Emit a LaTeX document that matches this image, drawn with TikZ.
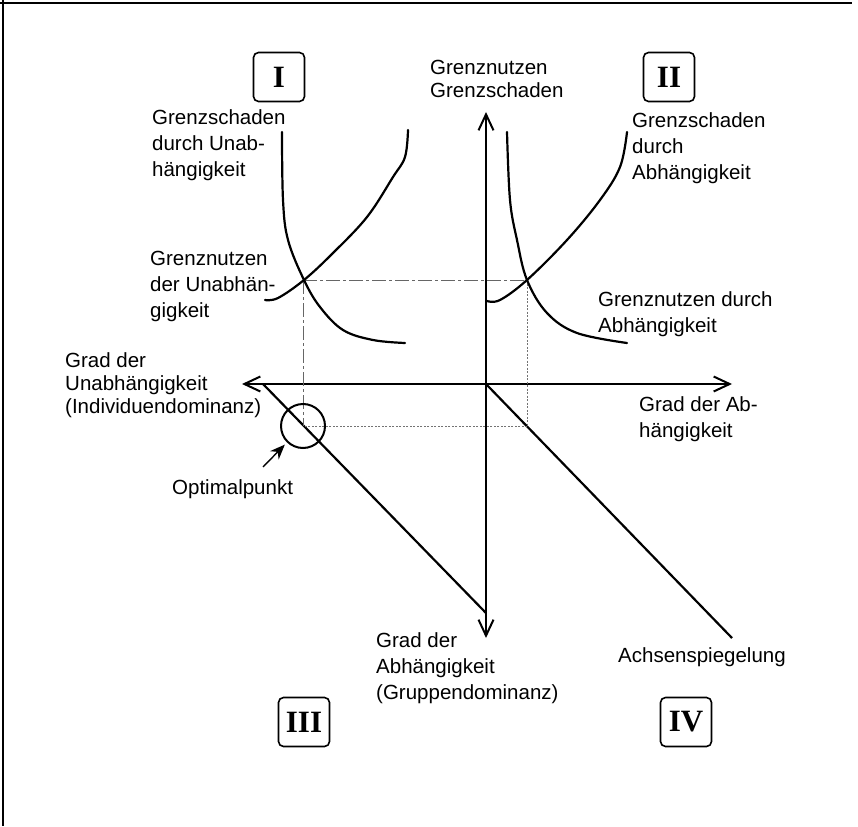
\documentclass[tikz,border=0pt]{standalone}
\usepackage{fontspec}
\setmainfont{Liberation Sans}
\newfontfamily\numfont{Liberation Serif}
\usetikzlibrary{arrows.meta}

% multi-line labels are placed by the baseline of their last line
\tikzset{
  lbl/.style={align=left, inner sep=0pt, anchor=base west,
    font=\fontsize{20.5}{26}\selectfont},
  lbltight/.style={lbl, font=\fontsize{20.5}{23}\selectfont},
  quad/.style={draw, rounded corners=5pt, line width=1.6pt,
    minimum width=51pt, minimum height=49pt, inner sep=0pt,
    font=\numfont\bfseries\fontsize{31}{31}\selectfont},
  axis/.style={line width=2.6pt,
    {Straight Barb[length=16pt,width=15pt,line width=2pt]}-{Straight Barb[length=16pt,width=15pt,line width=2pt]}},
  curve/.style={line width=2.2pt, line cap=round},
  mirror/.style={line width=2.2pt},
  guide/.style={line width=0.8pt, black!60, dash pattern=on 14pt off 3pt on 3pt off 3pt},
  guidedot/.style={line width=0.9pt, black!55, dash pattern=on 2pt off 1.5pt},
}

\begin{document}
\begin{tikzpicture}[x=1pt,y=-1pt]
\useasboundingbox (0,0) rectangle (858,826);

% page frame (top and left edge)
\draw[line width=1.4pt] (0,3) -- (852,3);
\draw[line width=1.4pt] (3,0) -- (3,826);

% axes
\coordinate (O) at (486,384);
\coordinate (ytop) at (486,112);
\coordinate (ybot) at (486,638);
\coordinate (xleft) at (242,384);
\coordinate (xright) at (732,384);
\coordinate (dIIIa) at (263,384);
\coordinate (dIIIb) at (486,613);
\coordinate (dIV) at (732,638);
\draw[axis] (ybot) -- (ytop);
\draw[axis] (xleft) -- (xright);

% mirror lines
\draw[mirror] (dIIIa) -- (dIIIb);
\draw[mirror] (O) -- (dIV);

% guide lines between the equilibria
\coordinate (eqL) at (303,280);
\coordinate (eqR) at (527,280);
\coordinate (mR) at (527,426);
\coordinate (mL) at (303,426);
\draw[guide] (eqL) -- (eqR);
\draw[guide] (eqL) -- (mL);
\draw[guidedot] (eqR) -- (mR);
\draw[guidedot] (mR) -- (mL);

% optimal point
\node[circle, draw, line width=2pt, minimum size=44pt, inner sep=0pt] (opt) at (mL) {};
\coordinate (opttail) at (263,467);
\draw[line width=1.4pt, -{Stealth[length=15pt,width=12pt]}, shorten >=3pt] (opttail) -- (opt);

% quadrant I curves
\draw[curve] plot[smooth, tension=0.6] coordinates {(282,132) (283,200) (288,240) (304,280) (320,307) (343,330) (373,340) (405,343)};
\draw[curve] plot[smooth, tension=0.6] coordinates {(265,300) (278,298) (304,280) (333,253) (367,217) (393,177) (405,157) (408,130)};

% quadrant II curves
\draw[curve] plot[smooth, tension=0.6] coordinates {(507,132) (510,200) (517,240) (527,280) (547,313) (577,333) (627,343)};
\draw[curve] plot[smooth, tension=0.6] coordinates {(487,301) (500,300) (527,280) (567,240) (600,200) (620,167) (627,132)};

% quadrant numbers
\node[quad] (qI) at (279,77) {I};
\node[quad] (qII) at (669,77) {II};
\node[quad] (qIII) at (304,722) {III};
\node[quad] (qIV) at (686,722) {IV};

% labels
\node[lbltight] (tY) at (430,98) {Grenznutzen\\Grenzschaden};
\node[lbl] (tGSU) at (152,177) {Grenzschaden\\durch Unab-\\hängigkeit};
\node[lbl] (tGNU) at (150,317) {Grenznutzen\\der Unabhän-\\gigkeit};
\node[lbl] (tGSA) at (632,180) {Grenzschaden\\durch\\Abhängigkeit};
\node[lbl] (tGNA) at (598,332) {Grenznutzen durch\\Abhängigkeit};
\node[lbltight] (tXL) at (65,413) {Grad der\\Unabhängigkeit\\(Individuendominanz)};
\node[lbl] (tXR) at (639,437) {Grad der Ab-\\hängigkeit};
\node[lbl] (tOpt) at (172,494) {Optimalpunkt};
\node[lbl] (tYB) at (376,699) {Grad der\\Abhängigkeit\\(Gruppendominanz)};
\node[lbl] (tMir) at (618,662) {Achsenspiegelung};
\end{tikzpicture}
\end{document}
